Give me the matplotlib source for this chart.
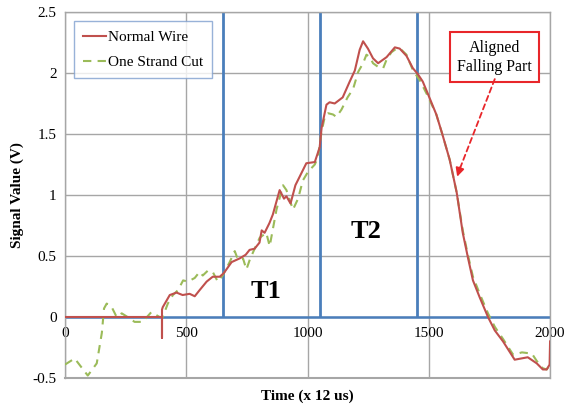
import matplotlib
matplotlib.use("Agg")
import matplotlib.pyplot as plt

# ---------------- data ----------------
red_x = [0, 400, 400, 400, 403, 432, 460, 485, 514, 535, 555, 584, 609, 638,
         655, 687, 720, 745, 761, 782, 802, 811, 823, 843,
         857, 885, 903, 913, 930, 950, 975, 995, 1030, 1050,
         1058, 1078, 1091, 1112, 1145, 1174, 1195, 1215, 1229, 1249,
         1270, 1291, 1326, 1360, 1380, 1408, 1434, 1455, 1475, 1496,
         1531, 1557, 1586, 1615, 1640, 1661, 1682, 1710, 1744, 1772,
         1806, 1854, 1908, 1945, 1970, 1986, 1998, 2000]
red_y = [0, 0, -0.17, 0.06, 0.08, 0.18, 0.20, 0.18, 0.19, 0.17, 0.22, 0.29, 0.33, 0.33,
         0.36, 0.45, 0.48, 0.51, 0.55, 0.56, 0.61, 0.71, 0.69, 0.77,
         0.84, 1.04, 0.97, 0.99, 0.93, 1.08, 1.18, 1.26, 1.27, 1.39,
         1.55, 1.74, 1.76, 1.75, 1.80, 1.93, 2.02, 2.19, 2.26, 2.20,
         2.12, 2.08, 2.13, 2.21, 2.20, 2.14, 2.04, 1.99, 1.93, 1.83,
         1.66, 1.49, 1.29, 1.02, 0.69, 0.49, 0.30, 0.16, 0.0, -0.11,
         -0.20, -0.35, -0.33, -0.38, -0.43, -0.43, -0.39, -0.20]

green_x = [0, 40, 94, 131, 152, 161, 172, 193, 213, 234, 258, 287, 320, 356, 390,
           403, 424, 445, 466, 487, 507, 535, 555, 568, 589, 609, 630, 650,
           679, 700, 713, 734, 748, 762, 782, 803, 830, 844, 872, 899, 913,
           940, 961, 981, 1002, 1030, 1043, 1057, 1071, 1085, 1105, 1119,
           1140, 1165, 1188, 1209, 1229, 1243, 1257, 1270, 1298, 1312, 1326,
           1346, 1367, 1387, 1408, 1435, 1463, 1496, 1531, 1557, 1586, 1615,
           1640, 1661, 1682, 1710, 1744, 1772, 1806, 1848, 1884, 1925, 1945,
           1970, 1986, 2000]
green_y = [-0.39, -0.34, -0.48, -0.38, -0.13, 0.07, 0.11, 0.08, 0.0, 0.03, 0.0, -0.04, -0.04, 0.04, 0.0,
           0.0, 0.11, 0.18, 0.22, 0.30, 0.29, 0.32, 0.37, 0.34, 0.38, 0.37, 0.29, 0.34,
           0.45, 0.54, 0.47, 0.48, 0.39, 0.47, 0.56, 0.65, 0.69, 0.58, 0.88, 1.08, 1.04,
           0.88, 0.97, 1.12, 1.19, 1.25, 1.31, 1.51, 1.64, 1.67, 1.66, 1.64,
           1.70, 1.80, 1.87, 2.01, 2.08, 2.15, 2.13, 2.08, 2.04, 2.04, 2.11,
           2.17, 2.20, 2.19, 2.15, 2.02, 1.94, 1.81, 1.66, 1.49, 1.29, 1.02,
           0.71, 0.51, 0.33, 0.19, 0.03, -0.08, -0.18, -0.31, -0.29, -0.30, -0.36,
           -0.42, -0.43, -0.39]

t_markers = [650, 1050, 1450]
x_ticks = [0, 500, 1000, 1500, 2000]
y_ticks = [-0.5, 0, 0.5, 1, 1.5, 2, 2.5]
y_ticklabels = ["-0.5", "0", "0.5", "1", "1.5", "2", "2.5"]

# ---------------- figure ----------------
plt.rcParams['font.family'] = ['Liberation Serif', 'DejaVu Serif']
fig = plt.figure(figsize=(5.73, 4.09), dpi=100)
ax = fig.add_axes([0.1134, 0.0758, 0.8466, 0.8949])

ax.set_xlim(0, 2000)
ax.set_ylim(-0.5, 2.5)

grid_c = '#a6a6a6'
ax.set_xticks(x_ticks)
ax.set_yticks(y_ticks)
ax.set_yticklabels(y_ticklabels)
ax.grid(True, color=grid_c, linewidth=1.0, zorder=0)
for s in ['top', 'left', 'right']:
    ax.spines[s].set_color(grid_c)
    ax.spines[s].set_linewidth(1.0)
ax.spines['bottom'].set_position(('data', 0))
ax.spines['bottom'].set_visible(False)
ax.axhline(-0.5, color=grid_c, linewidth=1.5, clip_on=False, zorder=1)

ax.tick_params(axis='both', length=0, labelsize=11)
ax.tick_params(axis='x', pad=7)
ax.tick_params(axis='y', pad=6)

blue = '#4a7ebb'
ax.hlines(0, 0, 2000, colors=blue, linewidth=1.8, zorder=2)
ax.vlines(t_markers, 0, 2.5, colors=blue, linewidth=2.0, zorder=2)

ax.plot(red_x, red_y, color='#c0504d', linewidth=1.5, label='Normal Wire', zorder=4)
ax.plot(green_x, green_y, color='#9bbb59', linewidth=1.5, linestyle=(0, (4, 3)),
        label='One Strand Cut', zorder=3)

leg = ax.legend(loc='upper left', bbox_to_anchor=(0.018, 0.975), fontsize=11,
                frameon=True, fancybox=False, handlelength=1.5, handletextpad=0.15,
                labelspacing=0.75, borderpad=0.6, borderaxespad=0.0)
leg.get_frame().set_edgecolor('#7f9fcf')
leg.get_frame().set_linewidth(1.0)

ax.text(828, 0.21, 'T1', fontsize=19, fontweight='bold', ha='center', va='center')
ax.text(1240, 0.70, 'T2', fontsize=19, fontweight='bold', ha='center', va='center')

ax.text(1772, 2.13, 'Aligned\nFalling Part', fontsize=11.5, ha='center', va='center',
        linespacing=1.25,
        bbox=dict(boxstyle='square,pad=0.45', facecolor='white', edgecolor='#e8262a',
                  linewidth=1.5), zorder=6)
ax.annotate('', xy=(1625, 1.2), xytext=(1772, 1.95),
            arrowprops=dict(arrowstyle='-', color='#e8262a', linewidth=1.3,
                            linestyle=(0, (3, 2)), shrinkA=0, shrinkB=0), zorder=6)
ax.annotate('', xy=(1617, 1.15), xytext=(1630, 1.23),
            arrowprops=dict(arrowstyle='-|>,head_length=0.5,head_width=0.25',
                            color='#e8262a', linewidth=1.3, shrinkA=0, shrinkB=0), zorder=6)

ax.set_xlabel('Time (x 12 us)', fontsize=11, fontweight='bold', labelpad=3)
ax.set_ylabel('Signal Value (V)', fontsize=11, fontweight='bold', labelpad=6)
ax.xaxis.set_label_coords(0.5, -0.032)

fig.savefig('out.png', dpi=100)
